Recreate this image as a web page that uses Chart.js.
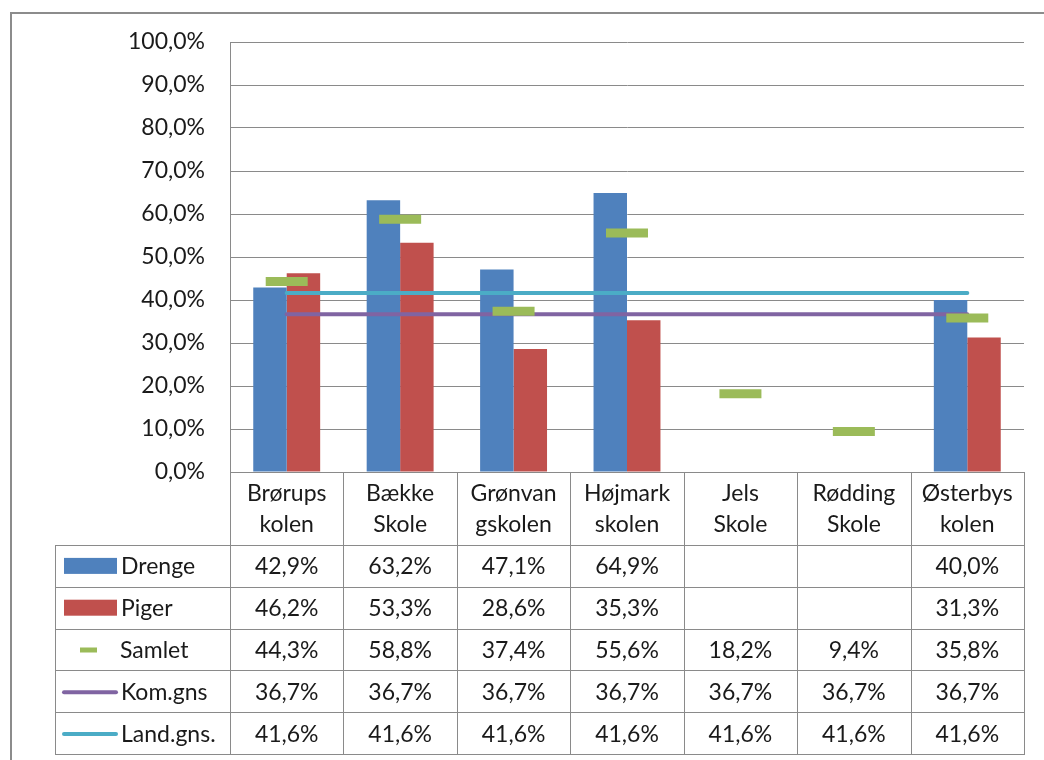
<!DOCTYPE html>
<html><head><meta charset="utf-8">
<script src="https://cdn.jsdelivr.net/npm/chart.js@4"></script>
<style>html,body{margin:0;padding:0;background:#fff}#wrap{width:1044px;height:760px;position:relative}</style>
</head><body><div id="wrap"><canvas id="c" width="1044" height="760"></canvas></div>
<script>
const categories = [['Brørups','kolen'],['Bække','Skole'],['Grønvan','gskolen'],['Højmark','skolen'],['Jels','Skole'],['Rødding','Skole'],['Østerbys','kolen']];
const drenge = [42.9, 63.2, 47.1, 64.9, null, null, 40.0];
const piger = [46.2, 53.3, 28.6, 35.3, null, null, 31.3];
const samlet = [44.3, 58.8, 37.4, 55.6, 18.2, 9.4, 35.8];
const komGns = [36.7, 36.7, 36.7, 36.7, 36.7, 36.7, 36.7];
const landGns = [41.6, 41.6, 41.6, 41.6, 41.6, 41.6, 41.6];
const seriesNames = ['Drenge', 'Piger', 'Samlet', 'Kom.gns', 'Land.gns.'];
const yMin = 0, yMax = 100, yStep = 10;

const FONT = 'Lato';
const TXT = '#1a1a1a';
const GRID = '#8a8a8a';
const COLORS = { drenge: '#4F81BD', piger: '#C0504D', samlet: '#9BBB59', kom: '#8064A2', land: '#4BACC6' };
const fmt = v => (v === null || v === undefined) ? '' : v.toFixed(1).replace('.', ',') + '%';

const tablePlugin = {
  id: 'dataTable',
  afterDraw(chart) {
    const ctx = chart.ctx;
    const xs = chart.scales.x;
    const L = chart.chartArea.left, R = chart.chartArea.right, B = chart.chartArea.bottom;
    const tableTop = 545, rowH = 41.8, rows = 5, tableLeft = 55;
    const tableBottom = tableTop + rows * rowH;
    ctx.save();
    // outer frame
    ctx.strokeStyle = '#8c8c8c'; ctx.lineWidth = 2;
    ctx.beginPath(); ctx.moveTo(11, 760); ctx.lineTo(11, 13); ctx.lineTo(1044, 13); ctx.stroke();
    // table lines
    ctx.strokeStyle = GRID; ctx.lineWidth = 1;
    const n = categories.length;
    const bounds = [L];
    for (let i = 1; i < n; i++) bounds.push((xs.getPixelForValue(i - 1) + xs.getPixelForValue(i)) / 2);
    bounds.push(R);
    ctx.beginPath();
    bounds.forEach(x => { const xx = Math.round(x) + 0.5; ctx.moveTo(xx, B); ctx.lineTo(xx, tableBottom); });
    ctx.moveTo(tableLeft + 0.5, tableTop); ctx.lineTo(tableLeft + 0.5, tableBottom);
    for (let k = 0; k <= rows; k++) {
      const y = Math.round(tableTop + k * rowH) + 0.5;
      ctx.moveTo(tableLeft, y); ctx.lineTo(Math.round(R) + 1, y);
    }
    ctx.stroke();
    // rows
    const series = [drenge, piger, samlet, komGns, landGns];
    ctx.font = '23px ' + FONT; ctx.fillStyle = TXT; ctx.textBaseline = 'middle';
    series.forEach((arr, r) => {
      const cy = tableTop + r * rowH + rowH / 2;
      if (r === 0 || r === 1) {
        ctx.fillStyle = r === 0 ? COLORS.drenge : COLORS.piger;
        ctx.fillRect(64, cy - 8, 53, 16);
      } else if (r === 2) {
        ctx.fillStyle = COLORS.samlet;
        ctx.fillRect(80, cy - 2, 17, 5);
      } else {
        ctx.strokeStyle = r === 3 ? COLORS.kom : COLORS.land;
        ctx.lineWidth = 4; ctx.lineCap = 'round';
        ctx.beginPath(); ctx.moveTo(64, cy + 1); ctx.lineTo(116, cy + 1); ctx.stroke();
      }
      ctx.fillStyle = TXT;
      ctx.textAlign = 'left';
      ctx.fillText(seriesNames[r], r === 2 ? 120 : 121, cy + 1);
      ctx.textAlign = 'center';
      arr.forEach((v, i) => { ctx.fillText(fmt(v), xs.getPixelForValue(i), cy + 1); });
    });
    ctx.restore();
  }
};

new Chart(document.getElementById('c'), {
  type: 'bar',
  data: {
    labels: categories,
    datasets: [
      { label: seriesNames[2], type: 'line', data: samlet, showLine: false, order: 0,
        pointStyle: 'line', pointRadius: 21, pointHoverRadius: 21, pointBorderWidth: 9, pointHoverBorderWidth: 9,
        pointBorderColor: COLORS.samlet, pointBackgroundColor: COLORS.samlet, borderColor: COLORS.samlet },
      { label: seriesNames[3], type: 'line', data: komGns, order: 1, borderColor: COLORS.kom, borderWidth: 4,
        borderCapStyle: 'round', pointRadius: 0, fill: false },
      { label: seriesNames[4], type: 'line', data: landGns, order: 1, borderColor: COLORS.land, borderWidth: 4,
        borderCapStyle: 'round', pointRadius: 0, fill: false },
      { label: seriesNames[0], data: drenge, backgroundColor: COLORS.drenge, order: 2 },
      { label: seriesNames[1], data: piger, backgroundColor: COLORS.piger, order: 2 }
    ]
  },
  options: {
    responsive: false, devicePixelRatio: 1, animation: false,
    events: [],
    datasets: { bar: { categoryPercentage: 0.59, barPercentage: 1 } },
    layout: { autoPadding: false, padding: { left: 0, right: 20, top: 42, bottom: 215 } },
    plugins: { legend: { display: false }, tooltip: { enabled: false } },
    scales: {
      x: {
        grid: { display: false, drawTicks: false },
        border: { display: true, color: GRID, width: 1 },
        ticks: { color: TXT, font: { family: FONT, size: 23, lineHeight: 1.35 }, padding: 6, maxRotation: 0, autoSkip: false },
        afterFit(s) { s.height = 73; s.paddingLeft = 0; s.paddingRight = 0; }
      },
      y: {
        min: yMin, max: yMax,
        grid: { color: GRID, drawTicks: false, lineWidth: 1 },
        border: { display: true, color: GRID, width: 1 },
        ticks: { stepSize: yStep, color: TXT, padding: 25, font: { family: FONT, size: 23 }, callback: v => fmt(v) },
        afterFit(s) { s.width = 230; }
      }
    }
  },
  plugins: [tablePlugin]
});
</script></body></html>
